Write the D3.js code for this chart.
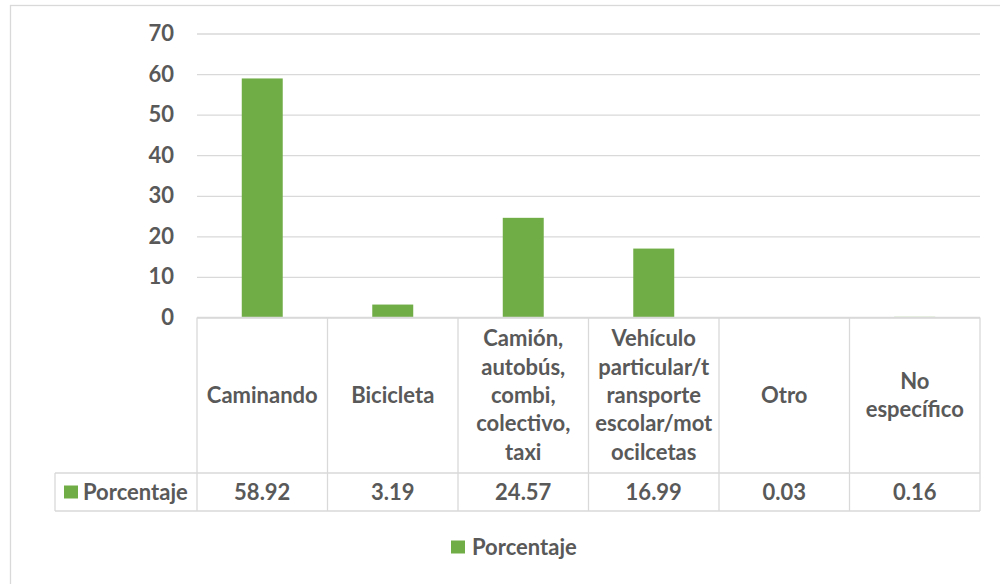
<!DOCTYPE html>
<html>
<head>
<meta charset="utf-8">
<script src="https://cdn.jsdelivr.net/npm/d3@7"></script>
<style>
  html, body { margin: 0; padding: 0; background: #fff; }
  svg text { font-family: Lato, "Open Sans", sans-serif; font-weight: 700; fill: #595959; }
</style>
</head>
<body>
<svg id="chart" width="1000" height="584"></svg>
<script>
// Series and labels
const categories = [
  "Caminando",
  "Bicicleta",
  "Camión,\nautobús,\ncombi,\ncolectivo,\ntaxi",
  "Vehículo\nparticular/t\nransporte\nescolar/mot\nocilcetas",
  "Otro",
  "No\nespecífico"
];
const seriesName = "Porcentaje";
const values = [58.92, 3.19, 24.57, 16.99, 0.03, 0.16];
const valueLabels = ["58.92", "3.19", "24.57", "16.99", "0.03", "0.16"];
const yTicks = [0, 10, 20, 30, 40, 50, 60, 70];

const svg = d3.select("#chart");
const green = "#70ad47";
const lineColor = "#d9d9d9";
const fontSize = 22;

// Chart frame
svg.append("rect")
  .attr("x", 10.5).attr("y", 5.5)
  .attr("width", 1010).attr("height", 620)
  .attr("fill", "#fff").attr("stroke", lineColor).attr("stroke-width", 1.3);

const plotLeft = 197, plotRight = 980, plotTop = 33.5, plotBottom = 317.5;
const rowSplit = 473, tableBottom = 511, keyLeft = 55;

const x = d3.scaleBand().domain(categories).range([plotLeft, plotRight]).paddingInner(0).paddingOuter(0);
const y = d3.scaleLinear().domain([0, 70]).range([plotBottom, plotTop]);

// Gridlines and value axis labels
const yAxis = d3.axisLeft(y).tickValues(yTicks).tickSize(-(plotRight - plotLeft)).tickPadding(23);
const gy = svg.append("g").attr("transform", `translate(${plotLeft},0)`).call(yAxis);
gy.select(".domain").remove();
gy.selectAll(".tick line").attr("stroke", lineColor).attr("stroke-width", 1.3);
gy.selectAll(".tick text")
  .attr("font-size", fontSize)
  .style("font-family", "Lato, 'Open Sans', sans-serif")
  .style("font-weight", 700)
  .attr("fill", "#595959");

// Bars
const barW = x.bandwidth() * 0.314;
svg.append("g").selectAll("rect")
  .data(values)
  .join("rect")
  .attr("x", (d, i) => x(categories[i]) + (x.bandwidth() - barW) / 2)
  .attr("y", d => y(d))
  .attr("width", barW)
  .attr("height", d => y(0) - y(d))
  .attr("fill", green);

// Data table lines (the top edge doubles as the category axis line)
const tbl = svg.append("g").attr("stroke", lineColor).attr("stroke-width", 1.3).attr("fill", "none");
tbl.append("line").attr("x1", plotLeft).attr("x2", plotRight).attr("y1", plotBottom).attr("y2", plotBottom);
tbl.append("line").attr("x1", keyLeft).attr("x2", plotRight).attr("y1", rowSplit).attr("y2", rowSplit);
tbl.append("line").attr("x1", keyLeft).attr("x2", plotRight).attr("y1", tableBottom).attr("y2", tableBottom);
tbl.append("line").attr("x1", keyLeft).attr("x2", keyLeft).attr("y1", rowSplit).attr("y2", tableBottom);
const bounds = categories.map(c => x(c)).concat([plotRight]);
tbl.selectAll("line.col").data(bounds).join("line").attr("class", "col")
  .attr("x1", d => d).attr("x2", d => d)
  .attr("y1", plotBottom).attr("y2", tableBottom);

// Category labels inside the table header cells
const lineH = 28.3;
const catMid = (plotBottom + rowSplit) / 2;
svg.append("g").selectAll("text")
  .data(categories)
  .join("text")
  .attr("font-size", fontSize)
  .attr("text-anchor", "middle")
  .each(function(d) {
    const lines = d.split("\n");
    const cx = x(d) + x.bandwidth() / 2;
    const t = d3.select(this);
    lines.forEach((ln, k) => {
      t.append("tspan")
        .attr("x", cx)
        .attr("y", catMid + (k - (lines.length - 1) / 2) * lineH)
        .attr("dy", "0.35em")
        .text(ln);
    });
  });

// Value row
const valMid = (rowSplit + tableBottom) / 2;
svg.append("g").selectAll("text")
  .data(valueLabels)
  .join("text")
  .attr("font-size", fontSize)
  .attr("text-anchor", "middle")
  .attr("x", (d, i) => x(categories[i]) + x.bandwidth() / 2)
  .attr("y", valMid)
  .attr("dy", "0.35em")
  .text(d => d);

// Legend key in the table
svg.append("rect").attr("x", 64).attr("y", valMid - 6.5).attr("width", 14).attr("height", 13).attr("fill", green);
svg.append("text").attr("x", 83).attr("y", valMid).attr("dy", "0.35em")
  .attr("font-size", fontSize).text(seriesName);

// Legend below the chart
const legY = 547;
svg.append("rect").attr("x", 451).attr("y", legY - 6.5).attr("width", 14).attr("height", 13).attr("fill", green);
svg.append("text").attr("x", 472).attr("y", legY).attr("dy", "0.35em")
  .attr("font-size", fontSize).text(seriesName);
</script>
</body>
</html>
